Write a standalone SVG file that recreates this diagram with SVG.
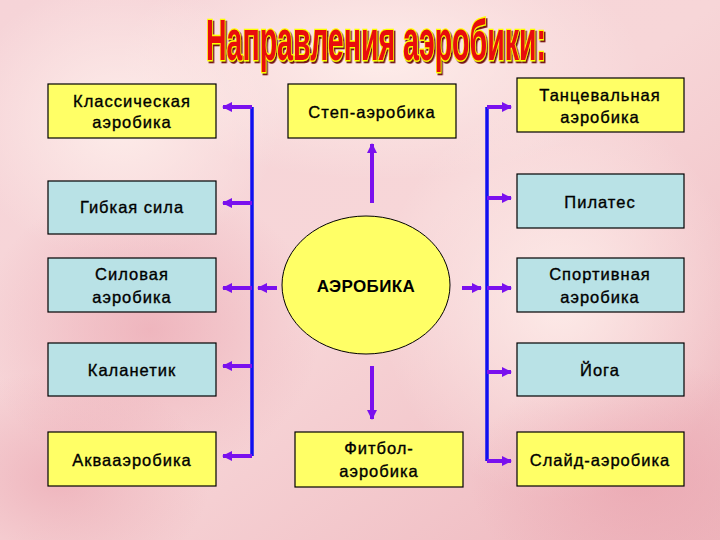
<svg xmlns="http://www.w3.org/2000/svg" width="720" height="540" viewBox="0 0 720 540">
<defs>
<linearGradient id="bg" x1="0" y1="0" x2="1" y2="1">
<stop offset="0" stop-color="#F6D4D8"/>
<stop offset="0.5" stop-color="#F7D6D8"/>
<stop offset="1" stop-color="#EEB6BD"/>
</linearGradient>
<radialGradient id="glow" cx="0.5" cy="0.5" r="0.5">
<stop offset="0" stop-color="#FFF2EE" stop-opacity="0.8"/>
<stop offset="1" stop-color="#FFF2EE" stop-opacity="0"/>
</radialGradient>
<radialGradient id="rose" cx="0.5" cy="0.5" r="0.5">
<stop offset="0" stop-color="#E9A0AC" stop-opacity="0.6"/>
<stop offset="1" stop-color="#E9A0AC" stop-opacity="0"/>
</radialGradient>
<filter id="shadow" x="-5%" y="-20%" width="110%" height="140%">
<feDropShadow dx="3" dy="2" stdDeviation="0.6" flood-color="#6A0000" flood-opacity="0.9"/>
</filter>
<marker id="ah" viewBox="0 0 10 10" refX="9" refY="5" markerWidth="10" markerHeight="10" markerUnits="userSpaceOnUse" orient="auto">
<path d="M0,0 L10,5 L0,10 Z" fill="#7A10EE"/>
</marker>
</defs>
<style>
.box{stroke:#000;stroke-width:1.2}
.y{fill:#FFFF66}
.b{fill:#B9E2E6}
.t{font-family:"Liberation Sans",Arial,sans-serif;font-size:16.5px;fill:#000;text-anchor:middle;letter-spacing:1px;stroke:#000;stroke-width:0.35px}
.trunk{stroke:#1010F0;stroke-width:3.5;fill:none}
.arr{stroke:#7A10EE;stroke-width:4;fill:none;marker-end:url(#ah)}
.title{font-family:"Liberation Sans",Arial,sans-serif;font-weight:bold;font-size:58px;text-anchor:middle}
</style>
<rect width="720" height="540" fill="url(#bg)"/>
<ellipse cx="380" cy="60" rx="260" ry="120" fill="url(#glow)"/>
<ellipse cx="120" cy="120" rx="160" ry="140" fill="url(#glow)"/>
<ellipse cx="560" cy="300" rx="180" ry="200" fill="url(#glow)"/>
<ellipse cx="150" cy="330" rx="170" ry="150" fill="url(#rose)"/>
<ellipse cx="640" cy="480" rx="170" ry="120" fill="url(#rose)"/>
<ellipse cx="60" cy="480" rx="150" ry="110" fill="url(#rose)"/>

<g id="title" transform="scale(0.5,1)">
<text class="title" x="752" y="60" textLength="680" lengthAdjust="spacingAndGlyphs" fill="#E81010" stroke="#FFFF00" stroke-width="2.6" paint-order="stroke" filter="url(#shadow)">Направления аэробики:</text>
</g>

<g id="connectors">
<path class="trunk" d="M252,107 V456"/>
<path class="trunk" d="M487,107 V461"/>
<path class="arr" d="M252,107 H223"/>
<path class="arr" d="M252,203 H223"/>
<path class="arr" d="M252,288 H223"/>
<path class="arr" d="M252,366 H223"/>
<path class="arr" d="M252,456 H223"/>
<path class="arr" d="M277,288 H258"/>
<path class="arr" d="M487,107 H511"/>
<path class="arr" d="M487,198 H511"/>
<path class="arr" d="M487,288 H511"/>
<path class="arr" d="M487,372 H511"/>
<path class="arr" d="M487,461 H511"/>
<path class="arr" d="M462,288 H481"/>
<path class="arr" d="M372,203 V144"/>
<path class="arr" d="M372,366 V419"/>
</g>

<g id="klassicheskaya">
<rect class="box y" x="48" y="84" width="168" height="54"/>
<text class="t" x="132" y="107">Классическая</text>
<text class="t" x="132" y="128">аэробика</text>
</g>
<g id="step">
<rect class="box y" x="288" y="84" width="168" height="54"/>
<text class="t" x="372" y="118">Степ-аэробика</text>
</g>
<g id="tancevalnaya">
<rect class="box y" x="517" y="78" width="167" height="54"/>
<text class="t" x="600" y="101">Танцевальная</text>
<text class="t" x="600" y="123">аэробика</text>
</g>
<g id="gibkaya">
<rect class="box b" x="48" y="181" width="168" height="53"/>
<text class="t" x="132" y="213">Гибкая сила</text>
</g>
<g id="pilates">
<rect class="box b" x="517" y="174" width="167" height="54"/>
<text class="t" x="600" y="208">Пилатес</text>
</g>
<g id="silovaya">
<rect class="box b" x="48" y="258" width="168" height="54"/>
<text class="t" x="132" y="280">Силовая</text>
<text class="t" x="132" y="303">аэробика</text>
</g>
<g id="aerobika">
<ellipse cx="366" cy="285" rx="84" ry="69" fill="#FFFF66" stroke="#000" stroke-width="1"/>
<text class="t" x="366" y="292" font-weight="bold" style="font-size:17px;letter-spacing:0.4px;stroke-width:0">АЭРОБИКА</text>
</g>
<g id="sportivnaya">
<rect class="box b" x="517" y="258" width="167" height="54"/>
<text class="t" x="600" y="280">Спортивная</text>
<text class="t" x="600" y="303">аэробика</text>
</g>
<g id="kalanetik">
<rect class="box b" x="48" y="343" width="168" height="53"/>
<text class="t" x="132" y="376">Каланетик</text>
</g>
<g id="yoga">
<rect class="box b" x="517" y="343" width="167" height="53"/>
<text class="t" x="600" y="376">Йога</text>
</g>
<g id="akva">
<rect class="box y" x="48" y="432" width="168" height="54"/>
<text class="t" x="132" y="466">Аквааэробика</text>
</g>
<g id="fitbol">
<rect class="box y" x="295" y="432" width="168" height="55"/>
<text class="t" x="379" y="454">Фитбол-</text>
<text class="t" x="379" y="477">аэробика</text>
</g>
<g id="slide">
<rect class="box y" x="517" y="432" width="167" height="54"/>
<text class="t" x="600" y="466">Слайд-аэробика</text>
</g>
</svg>
